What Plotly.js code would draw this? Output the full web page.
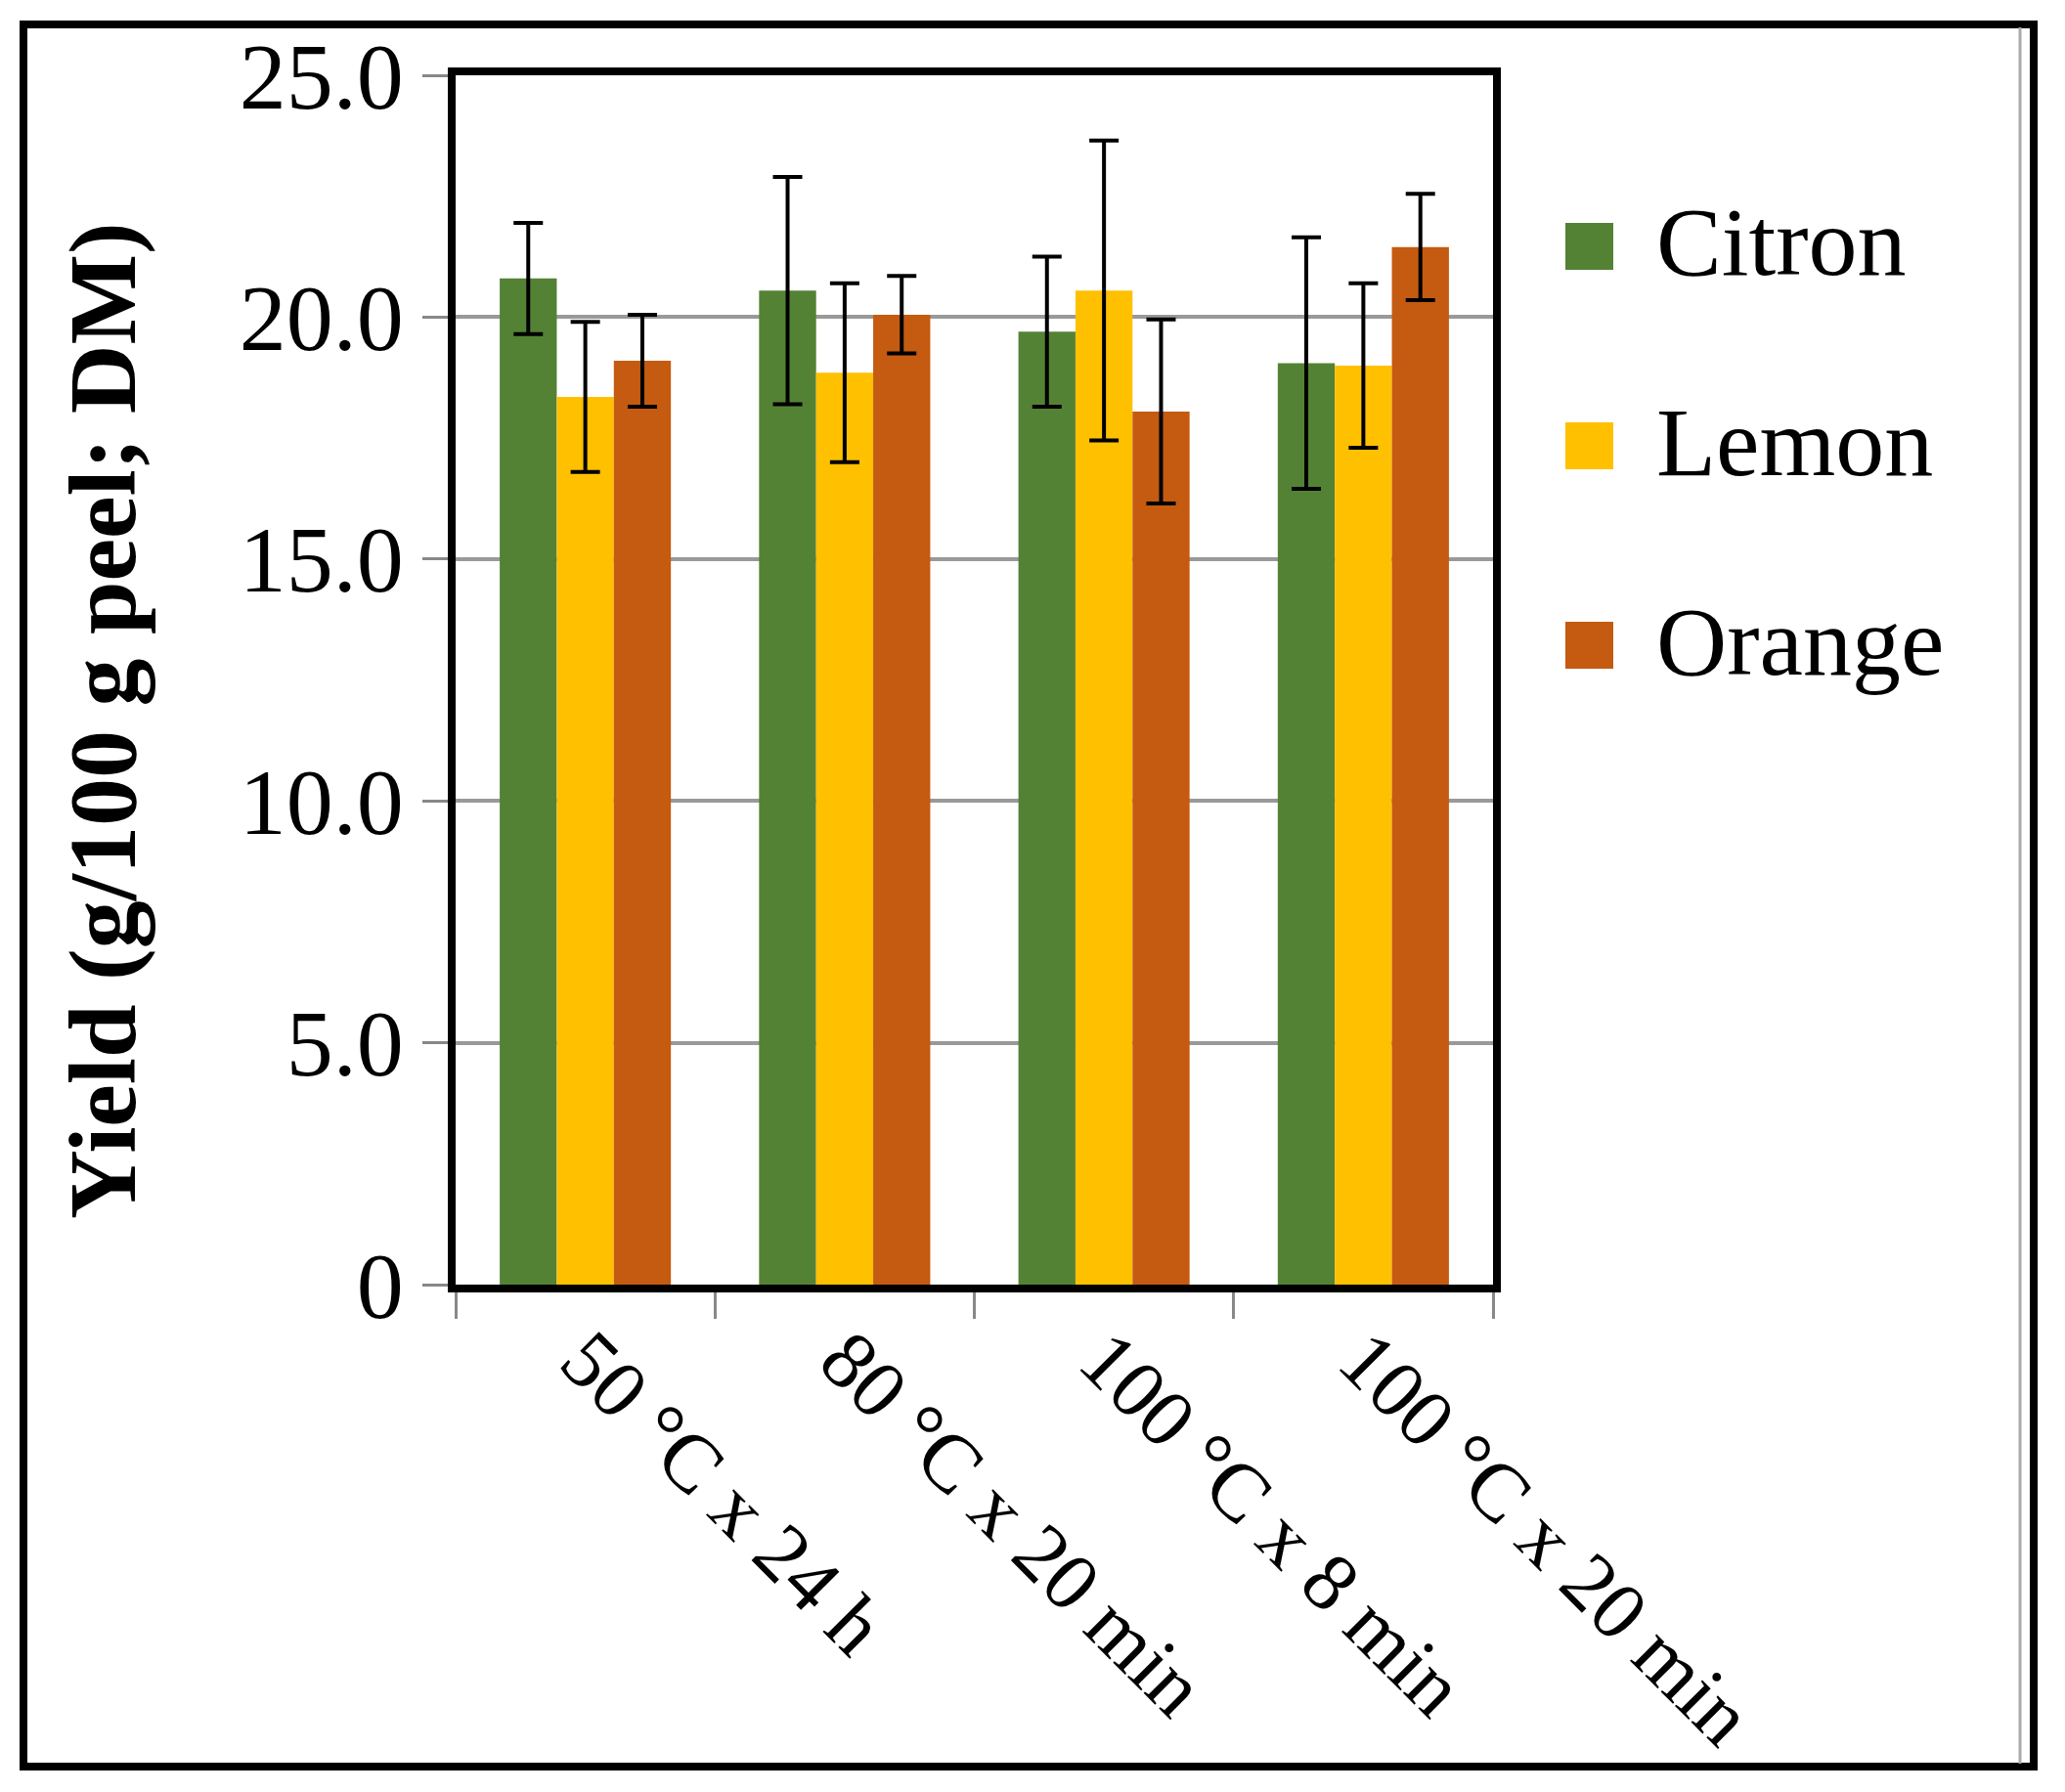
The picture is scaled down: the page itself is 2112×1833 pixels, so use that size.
<!DOCTYPE html>
<html>
<head>
<meta charset="utf-8">
<script src="https://cdn.plot.ly/plotly-3.0.1.min.js"></script>
<style>
  body { margin: 0; background: #fff; }
  #chart { width: 2112px; height: 1833px; }
</style>
</head>
<body>
<div id="chart"></div>
<script>
// treatments on the x axis
const treatments = ["50 °C x 24 h", "80 °C x 20 min", "100 °C x 8 min", "100 °C x 20 min"];

const seriesNames = ["Citron", "Lemon", "Orange"];
const seriesColors = ["#548235", "#FFC000", "#C55A11"];

// yield, g/100 g peel (DM)
const citron = [20.8, 20.55, 19.7, 19.05];
const lemon = [18.35, 18.85, 20.55, 19.0];
const orange = [19.1, 20.05, 18.05, 21.45];

// error bars (+/-)
const citronErr = [1.15, 2.35, 1.55, 2.6];
const lemonErr = [1.55, 1.85, 3.1, 1.7];
const orangeErr = [0.95, 0.8, 1.9, 1.1];

const yTickVals = [0, 5, 10, 15, 20, 25];
const yTickText = ["0", "5.0", "10.0", "15.0", "20.0", "25.0"];

document.addEventListener("DOMContentLoaded", function () {
    const W = 2112, H = 1833;
    const m = {l: 466, r: 585, t: 77, b: 519};
    const plotW = W - m.l - m.r;
    const plotH = H - m.t - m.b;
    // pixel -> paper helpers for the frame and the legend
    const fx = x => (x - m.l) / plotW;
    const fy = y => (H - m.b - y) / plotH;

    const values = [citron, lemon, orange];
    const errs = [citronErr, lemonErr, orangeErr];

    const data = seriesNames.map((name, i) => ({
        type: "bar",
        name: name,
        x: treatments,
        y: values[i],
        marker: {color: seriesColors[i]},
        error_y: {
            type: "data",
            array: errs[i],
            visible: true,
            color: "#000",
            thickness: 4,
            width: 15
        },
        showlegend: false
    }));

    const font = "Liberation Serif, Times New Roman, serif";

    const shapes = [
        // outer frame
        {type: "rect", xref: "paper", yref: "paper",
         x0: fx(24), x1: fx(2080), y0: fy(1807), y1: fy(25),
         line: {color: "#000", width: 8}},
        {type: "line", xref: "paper", yref: "paper",
         x0: fx(2066), x1: fx(2066), y0: fy(1804), y1: fy(28),
         line: {color: "#aaa", width: 3}}
    ];
    const annotations = [
        {xref: "paper", yref: "paper", x: fx(105), y: fy(737),
         text: "<b>Yield (g/100 g peel; DM)</b>", textangle: -90,
         showarrow: false, xanchor: "center", yanchor: "middle",
         font: {family: font, size: 98, color: "#000"}}
    ];

    // legend built by hand so the colour squares can be as big as the original
    const legendY = [252, 456, 660];
    seriesNames.forEach((name, i) => {
        shapes.push({type: "rect", xref: "paper", yref: "paper",
            x0: fx(1601), x1: fx(1650), y0: fy(legendY[i] + 24), y1: fy(legendY[i] - 24),
            fillcolor: seriesColors[i], line: {width: 0}});
        annotations.push({xref: "paper", yref: "paper", x: fx(1692), y: fy(legendY[i] - 4),
            text: name, showarrow: false, xanchor: "left", yanchor: "middle",
            font: {family: font, size: 100, color: "#000"}});
    });

    const layout = {
        width: W,
        height: H,
        margin: m,
        paper_bgcolor: "#fff",
        plot_bgcolor: "#fff",
        barmode: "group",
        bargap: 0.34,
        bargroupgap: 0,
        showlegend: false,
        font: {family: font, color: "#000"},
        xaxis: {
            type: "category",
            tickangle: 45,
            tickfont: {family: font, size: 84, color: "#000"},
            ticks: "outside",
            tickson: "boundaries",
            ticklen: 27,
            tickwidth: 3,
            tickcolor: "#888",
            ticklabelstandoff: -14,
            showline: true,
            linecolor: "#000",
            linewidth: 8,
            mirror: true,
            showgrid: false
        },
        yaxis: {
            range: [0, 25],
            tickvals: yTickVals,
            ticktext: yTickText,
            tickfont: {family: font, size: 96, color: "#000"},
            ticks: "outside",
            ticklen: 26,
            tickwidth: 3,
            tickcolor: "#888",
            showgrid: true,
            gridcolor: "#999",
            gridwidth: 4,
            zeroline: false,
            showline: true,
            linecolor: "#000",
            linewidth: 8,
            mirror: true
        },
        shapes: shapes,
        annotations: annotations
    };

    Plotly.newPlot("chart", data, layout, {displayModeBar: false, staticPlot: true});
});
</script>
</body>
</html>
